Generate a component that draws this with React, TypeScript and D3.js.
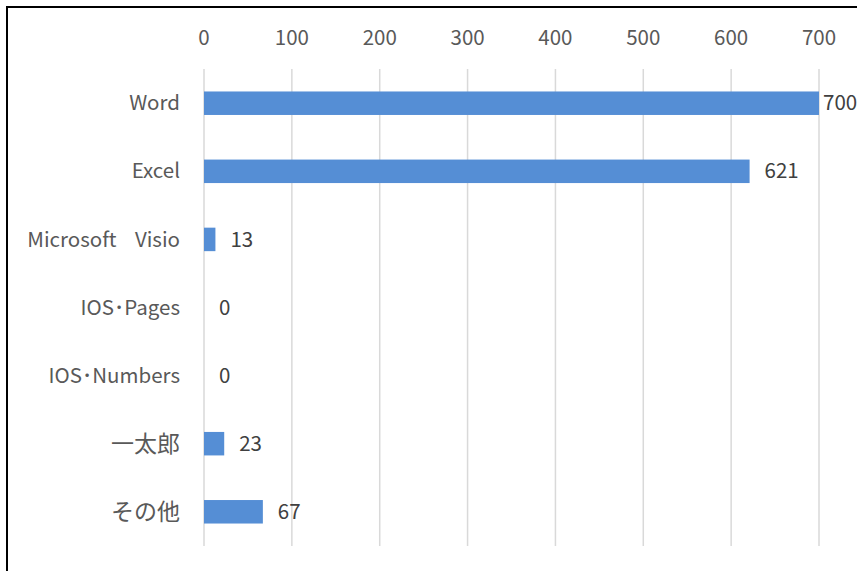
import React, { useEffect, useRef } from 'react';
import * as d3 from 'd3';

const categories = ['Word', 'Excel', 'Microsoft\u00a0\u00a0\u00a0\u00a0Visio', 'IOS･Pages', 'IOS･Numbers', '一太郎', 'その他'];
const counts = [700, 621, 13, 0, 0, 23, 67];
const ticks = [0, 100, 200, 300, 400, 500, 600, 700];

const App = () => {
  const svgRef = useRef<SVGSVGElement>(null);

  useEffect(() => {
    const w = 857;
    const h = 571;
    const font = '"Noto Sans CJK JP", "Noto Sans", sans-serif';

    const svg = d3.select(svgRef.current);
    svg.selectAll('*').remove();
    svg.attr('width', w).attr('height', h);

    // frame (only top/left visible, rest cut off)
    svg
      .append('rect')
      .attr('x', 7)
      .attr('y', 7)
      .attr('width', w + 20)
      .attr('height', h + 20)
      .attr('fill', 'white')
      .attr('stroke', '#000')
      .attr('stroke-width', 2);

    const x = d3.scaleLinear().domain([0, 700]).range([204, 819]);
    const y = d3.scaleBand().domain(categories).range([69, 546]).paddingInner(0.655).paddingOuter(0.33);

    // gridlines
    svg
      .append('g')
      .selectAll('line')
      .data(ticks)
      .join('line')
      .attr('x1', (d) => x(d))
      .attr('x2', (d) => x(d))
      .attr('y1', 69)
      .attr('y2', 546)
      .attr('stroke', '#d9d9d9')
      .attr('stroke-width', 1.5);

    // tick labels
    svg
      .append('g')
      .selectAll('text')
      .data(ticks)
      .join('text')
      .attr('x', (d) => x(d))
      .attr('y', 38)
      .attr('dy', '0.35em')
      .attr('text-anchor', 'middle')
      .style('font-family', font)
      .style('font-size', '20.5px')
      .attr('fill', '#595959')
      .text((d) => d);

    // category labels
    const isCjk = (s: string) => /^[\u3040-\u30ff\u4e00-\u9fff]+$/.test(s);
    svg
      .append('g')
      .selectAll('text')
      .data(categories)
      .join('text')
      .attr('x', 180)
      .attr('y', (d) => (y(d) as number) + y.bandwidth() / 2)
      .attr('dy', '0.35em')
      .attr('text-anchor', 'end')
      .style('font-family', font)
      .style('font-size', (d) => (isCjk(d) ? '23px' : '20.5px'))
      .attr('fill', '#595959')
      .text((d) => d);

    // bars
    svg
      .append('g')
      .selectAll('rect')
      .data(counts)
      .join('rect')
      .attr('x', x(0))
      .attr('y', (d, i) => y(categories[i]) as number)
      .attr('width', (d) => x(d) - x(0))
      .attr('height', y.bandwidth())
      .attr('fill', '#558ed5');

    // value labels
    svg
      .append('g')
      .selectAll('text')
      .data(counts)
      .join('text')
      .attr('x', (d) => Math.min(x(d) + 15, w - 34))
      .attr('y', (d, i) => (y(categories[i]) as number) + y.bandwidth() / 2)
      .attr('dy', '0.35em')
      .style('font-family', font)
      .style('font-size', '20.5px')
      .attr('fill', '#404040')
      .text((d) => d);
  }, []);

  return (
    <div id="chartArea">
      <svg ref={svgRef} style={{ position: 'absolute', left: 0, top: 0 }}></svg>
    </div>
  );
};

export default App;
